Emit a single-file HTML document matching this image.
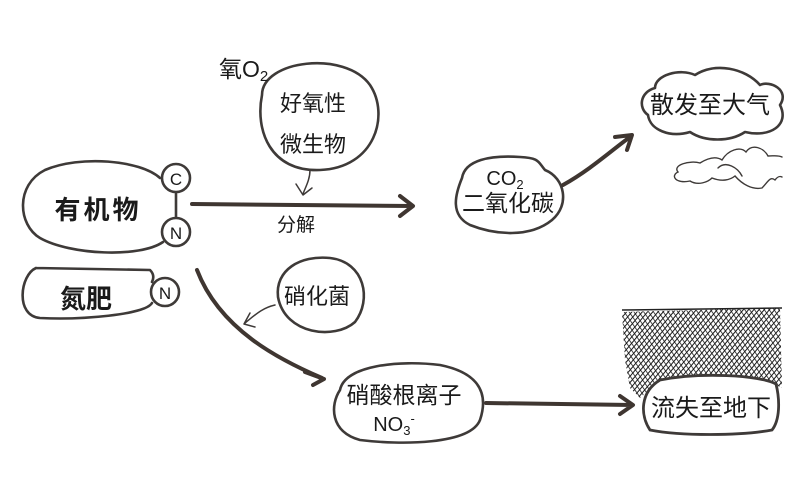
<!DOCTYPE html>
<html><head><meta charset="utf-8"><style>
html,body{margin:0;padding:0;background:#fff;}
svg{display:block}
text{font-family:"Liberation Sans","Noto Sans CJK SC",sans-serif;fill:#1a1a1a}
</style></head><body>
<svg width="803" height="501" viewBox="0 0 803 501" xmlns="http://www.w3.org/2000/svg">
<defs>
<pattern id="h1" width="4" height="4" patternUnits="userSpaceOnUse" patternTransform="rotate(40)"><line x1="0" y1="0" x2="0" y2="4" stroke="#1a1a1a" stroke-width="2"/></pattern>
<pattern id="h2" width="4" height="4" patternUnits="userSpaceOnUse" patternTransform="rotate(-35)"><line x1="0" y1="0" x2="0" y2="4" stroke="#1a1a1a" stroke-width="1.6"/></pattern>
</defs>
<g fill="none" stroke="#3e3a38" stroke-width="2.6" stroke-linecap="round" stroke-linejoin="round">
<path d="M262,95 C262,60 345,50 370,85 C390,115 375,168 320,170 C270,172 255,130 262,95Z"/>
<path d="M160,178 C140,160 80,155 45,170 C15,185 18,225 40,238 C70,255 140,258 163,242 M176,192 L176,218"/>
<circle cx="176" cy="178" r="14" fill="#fff"/>
<circle cx="176" cy="232" r="14" fill="#fff"/>
<path d="M36,268 L150,270 C155,275 153,280 152,282 M152,303 C145,315 80,320 40,318 C15,316 20,275 36,268"/>
<circle cx="165" cy="292" r="14" fill="#fff"/>
<path d="M278,297 C275,270 300,255 330,258 C365,262 372,300 355,322 C335,340 285,335 278,297Z"/>
<path d="M462,178 C465,160 490,155 520,157 C540,158 538,162 545,170 C565,178 570,205 552,220 C530,238 495,235 470,225 C450,215 455,195 462,178Z"/>
<path d="M340,390 C345,365 400,360 440,365 C475,372 490,390 480,420 C470,445 400,445 360,440 C330,432 330,405 340,390Z"/>
<path d="M655,88 C640,92 638,108 648,115 C650,130 670,138 690,132 C705,142 730,142 745,132 C770,138 790,125 780,105 C790,90 770,80 760,85 C745,68 715,62 695,75 C680,68 655,75 655,88Z"/>
<path d="M310,170 C310,180 305,188 303,194 M296,184 L303,195 L312,188" stroke-width="1.5"/>
<path d="M275,305 C262,308 255,315 245,323 M250,313 L244,324 L255,327" stroke-width="1.5"/>
</g>
<path d="M700,163 C690,160 672,165 678,172 C670,176 676,184 690,181 C698,186 708,182 712,178 C722,182 730,180 735,176 C742,184 752,190 762,188 C768,182 770,176 775,180 C778,176 780,176 782,177 M700,163 C708,158 716,156 722,160 C728,150 740,146 746,152 C752,143 764,148 768,156 C774,156 778,155 782,157 M718,168 C726,160 738,168 742,176" fill="none" stroke="#3e3a38" stroke-width="1.4" stroke-linecap="round"/>
<g>
<path d="M622,312 L780,308 L782,388 L770,382 C730,372 680,372 655,385 L640,398 L630,388 L625,360Z" fill="url(#h1)"/>
<path d="M622,312 L780,308 L782,388 L770,382 C730,372 680,372 655,385 L640,398 L630,388 L625,360Z" fill="url(#h2)"/>
<line x1="622" y1="310" x2="782" y2="308" stroke="#222" stroke-width="1.5"/>
</g>
<path d="M660,380 C700,372 760,375 776,384 C780,400 780,420 772,430 C740,436 680,436 650,430 C640,415 640,392 660,380Z" fill="#fff" stroke="#3e3a38" stroke-width="2.8"/>
<g fill="none" stroke="#3f3631" stroke-width="4" stroke-linecap="round" stroke-linejoin="round">
<path d="M192,204 L412,206 M400,196 L413,206 L400,216"/>
<path d="M563,185 C590,170 612,150 630,137 M615,137 L632,135 L627,150"/>
<path d="M197,270 C220,330 280,360 322,378 M305,372 L324,379 L313,385"/>
<path d="M486,403 L632,405 M620,396 L633,405 L620,414"/>
</g>
<text x="219" y="77" font-size="23">氧O<tspan font-size="15" dy="4">2</tspan></text>
<text x="313" y="111" font-size="22" text-anchor="middle">好氧性</text>
<text x="313" y="152" font-size="22" text-anchor="middle">微生物</text>
<text x="176" y="185" font-size="17" text-anchor="middle">C</text>
<text x="176" y="239" font-size="17" text-anchor="middle">N</text>
<text x="165" y="299" font-size="17" text-anchor="middle">N</text>
<text x="98" y="219" font-size="26" font-weight="bold" text-anchor="middle" letter-spacing="3">有机物</text>
<text x="86" y="308" font-size="26" font-weight="bold" text-anchor="middle">氮肥</text>
<text x="296" y="231" font-size="19" text-anchor="middle">分解</text>
<text x="505" y="185" font-size="20" text-anchor="middle">CO<tspan font-size="13" dy="4">2</tspan></text>
<text x="508" y="211" font-size="23" text-anchor="middle">二氧化碳</text>
<text x="317" y="304" font-size="22" text-anchor="middle">硝化菌</text>
<text x="404" y="403" font-size="23" text-anchor="middle">硝酸根离子</text>
<text x="394" y="431" font-size="20" text-anchor="middle">NO<tspan font-size="13" dy="4">3</tspan><tspan font-size="13" dy="-12">-</tspan></text>
<text x="710" y="113" font-size="24" text-anchor="middle">散发至大气</text>
<text x="711" y="416" font-size="24" text-anchor="middle">流失至地下</text>
</svg>
</body></html>
